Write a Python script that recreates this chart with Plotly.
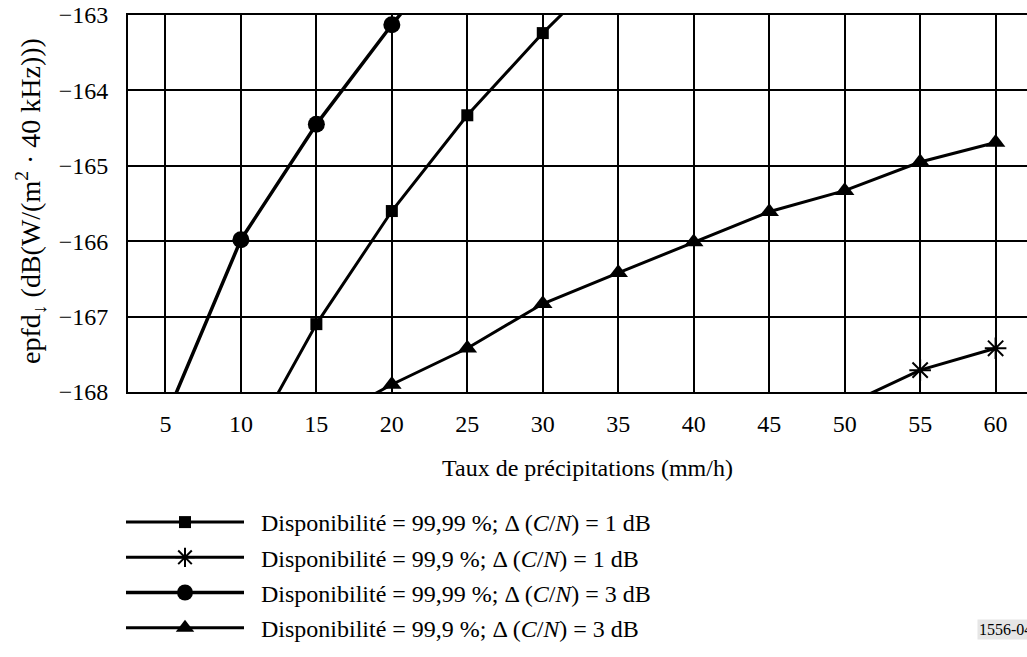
import plotly.graph_objects as go

# Data (rain rate in mm/h, epfd in dB(W/(m2*40kHz)))
x_sq = [10, 15, 20, 25, 30, 35]
y_sq = [-168.9, -167.1, -165.6, -164.33, -163.24, -162.25]

x_star = [50, 55, 60]
y_star = [-168.18, -167.71, -167.42]

x_circ = [5, 10, 15, 20, 25]
y_circ = [-168.35, -165.98, -164.45, -163.13, -161.9]

x_tri = [15, 20, 25, 30, 35, 40, 45, 50, 55, 60]
y_tri = [-168.45, -167.9, -167.42, -166.83, -166.42, -166.01, -165.61, -165.33, -164.95, -164.69]

x_ticks = [5, 10, 15, 20, 25, 30, 35, 40, 45, 50, 55, 60]
y_ticks = [-168, -167, -166, -165, -164, -163]

PAD = "\u00a0\u00a0"
names = [
    PAD + "Disponibilité = 99,99 %; Δ (<i>C</i>/<i>N</i>) = 1 dB",
    PAD + "Disponibilité = 99,9 %; Δ (<i>C</i>/<i>N</i>) = 1 dB",
    PAD + "Disponibilité = 99,99 %; Δ (<i>C</i>/<i>N</i>) = 3 dB",
    PAD + "Disponibilité = 99,9 %; Δ (<i>C</i>/<i>N</i>) = 3 dB",
]

FONT = "Times New Roman, Liberation Serif, Tinos, DejaVu Serif, serif"
FS = 24
W, H = 1027, 657
L, R, T, B = 128, 0, 15, 265

fig = go.Figure()
line = dict(color="black", width=3)

fig.add_trace(go.Scatter(x=x_sq, y=y_sq, mode="lines+markers", name=names[0],
                         line=line, legendgroup="a",
                         marker=dict(symbol="square", size=12, color="black")))
fig.add_trace(go.Scatter(x=x_star, y=y_star, mode="lines+markers", name=names[1],
                         line=line, legendgroup="b",
                         marker=dict(symbol="asterisk-open", size=18,
                                     line=dict(color="black", width=2))))
fig.add_trace(go.Scatter(x=x_circ, y=y_circ, mode="lines+markers", name=names[2],
                         line=dict(color="black", width=3.5), legendgroup="c",
                         marker=dict(symbol="circle", size=17, color="black")))
fig.add_trace(go.Scatter(x=x_tri, y=y_tri, mode="lines+markers", name=names[3],
                         line=line, legendgroup="d",
                         marker=dict(symbol="triangle-up", size=17, color="black")))

plot_w = W - L - R
plot_h = H - T - B

def px_x(p):
    return (p - L) / plot_w

def px_y(p):
    return (H - B - p) / plot_h

fig.update_layout(
    width=W, height=H,
    margin=dict(l=L, r=R, t=T, b=B, autoexpand=False),
    paper_bgcolor="white", plot_bgcolor="white",
    font=dict(family=FONT, size=FS, color="black"),
    showlegend=True,
    legend=dict(
        x=px_x(121), y=px_y(500), xanchor="left", yanchor="top",
        orientation="v", traceorder="grouped", tracegroupgap=1,
        itemwidth=118, font=dict(family=FONT, size=24, color="black"),
        bgcolor="rgba(0,0,0,0)",
    ),
    xaxis=dict(
        range=[2.52, 62.08], tickvals=x_ticks, ticktext=[str(v) for v in x_ticks],
        showgrid=True, gridcolor="black", gridwidth=2,
        showline=True, linecolor="black", linewidth=2, mirror=True,
        ticks="", ticklabelstandoff=9, zeroline=False, automargin=False,
        tickfont=dict(family=FONT, size=FS),
    ),
    yaxis=dict(
        range=[-168, -163], tickvals=y_ticks,
        showgrid=True, gridcolor="black", gridwidth=2,
        showline=True, linecolor="black", linewidth=2, mirror=False,
        ticks="", ticklabelstandoff=13, zeroline=False, automargin=False,
        tickfont=dict(family=FONT, size=FS),
    ),
    annotations=[
        dict(text="Taux de précipitations (mm/h)", xref="paper", yref="paper",
             x=px_x(587), y=px_y(468), xanchor="center", yanchor="middle",
             showarrow=False, font=dict(family=FONT, size=FS)),
        dict(text="epfd<sub>↓</sub> (dB(W/(m<sup>2</sup> · 40 kHz)))", xref="paper", yref="paper",
             x=px_x(30), y=px_y(201), xanchor="center", yanchor="middle",
             textangle=-90, showarrow=False, font=dict(family=FONT, size=28)),
        dict(text="1556-04", xref="paper", yref="paper",
             x=px_x(977), y=px_y(629), xanchor="left", yanchor="middle",
             showarrow=False, bgcolor="#e6e6e6", borderpad=1,
             font=dict(family=FONT, size=16)),
    ],
)

fig.write_html("out.html",
               config={"displayModeBar": False},
               post_script="document.body.style.margin='0';document.body.style.padding='0';")
